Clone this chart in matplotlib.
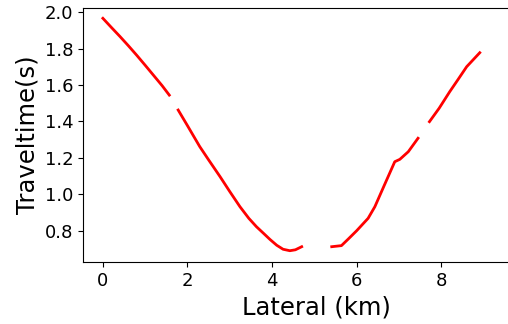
import matplotlib
matplotlib.use('Agg')
import matplotlib.pyplot as plt
import numpy as np

# lateral position (km) and traveltime (s), NaN marks the gaps in the curve
lateral = np.array([0.00, 0.20, 0.40, 0.60, 0.80, 1.00, 1.20, 1.40, 1.57, np.nan,
                    1.78, 2.00, 2.29, 2.50, 2.77, 3.00, 3.24, 3.45, 3.63, 3.80, 3.95, 4.11,
                    4.26, 4.42, 4.55, 4.70, np.nan,
                    5.41, 5.64, 5.80, 6.00, 6.27, 6.43, 6.65, 6.90, 7.02, 7.22, 7.45, np.nan,
                    7.72, 7.95, 8.20, 8.40, 8.60, 8.91])
traveltime = np.array([1.967, 1.917, 1.868, 1.817, 1.764, 1.709, 1.653, 1.597, 1.545, np.nan,
                       1.463, 1.377, 1.262, 1.189, 1.097, 1.015, 0.932, 0.868, 0.822, 0.785, 0.752, 0.720,
                       0.698, 0.690, 0.695, 0.712, np.nan,
                       0.712, 0.718, 0.754, 0.800, 0.868, 0.932, 1.048, 1.179, 1.192, 1.234, 1.308, np.nan,
                       1.399, 1.473, 1.564, 1.632, 1.701, 1.778])

fig = plt.figure(figsize=(5.08, 3.24), dpi=100)
# axes run past the right edge, the saved picture is cut there
ax = fig.add_axes([83 / 508, 1 - 262 / 324, 467 / 508, 254 / 324])

ax.plot(lateral, traveltime, '-', color='red', linewidth=2)

ax.set_xlim(-0.47, 10.57)
ax.set_ylim(0.628, 2.0236)
ax.set_xticks([0, 2, 4, 6, 8])
ax.set_yticks([0.8, 1.0, 1.2, 1.4, 1.6, 1.8, 2.0])
ax.tick_params(labelsize=13)
ax.spines['right'].set_visible(False)

ax.set_xlabel('Lateral (km)', fontsize=17.5)
ax.set_ylabel('Traveltime(s)', fontsize=17.5)

fig.savefig('out.png', dpi=100)
